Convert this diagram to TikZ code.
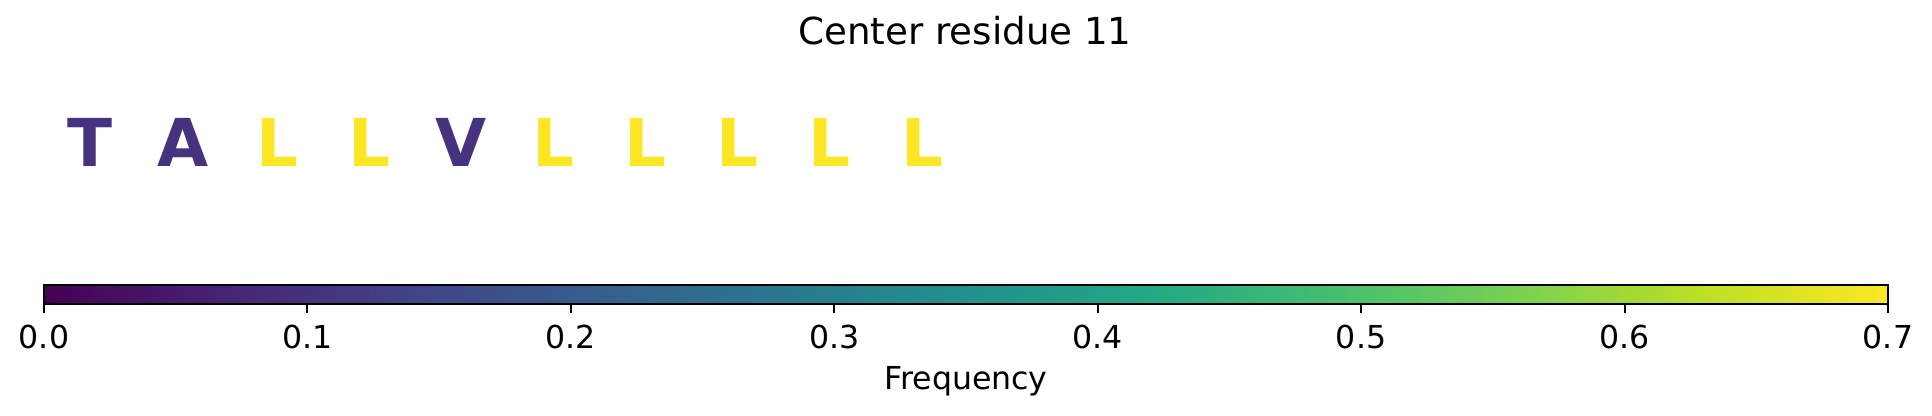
\documentclass[tikz,border=0pt]{standalone}
\usepackage{fontspec}
\setmainfont{DejaVu Sans}
\usetikzlibrary{positioning}

\definecolor{vir0}{HTML}{440154}
\definecolor{vir1}{HTML}{482475}
\definecolor{vir2}{HTML}{414487}
\definecolor{vir3}{HTML}{355F8D}
\definecolor{vir4}{HTML}{2A788E}
\definecolor{vir5}{HTML}{21918C}
\definecolor{vir6}{HTML}{22A884}
\definecolor{vir7}{HTML}{44BF70}
\definecolor{vir8}{HTML}{7AD151}
\definecolor{vir9}{HTML}{BDDF26}
\definecolor{vir10}{HTML}{FDE725}
\definecolor{lowfreq}{HTML}{46327E}
\definecolor{highfreq}{HTML}{FDE725}

\pgfdeclarehorizontalshading{viridis}{100bp}{color(0bp)=(vir0); color(25bp)=(vir0);
  color(30bp)=(vir1); color(35bp)=(vir2); color(40bp)=(vir3); color(45bp)=(vir4);
  color(50bp)=(vir5); color(55bp)=(vir6); color(60bp)=(vir7); color(65bp)=(vir8);
  color(70bp)=(vir9); color(75bp)=(vir10); color(100bp)=(vir10)}

\tikzset{
  residue/.style={anchor=base,inner sep=0pt,font=\fontsize{33}{33}\selectfont\bfseries},
  ticklabel/.style={anchor=base,inner sep=0pt,font=\fontsize{15.8}{15.8}\selectfont},
}

\begin{document}
\begin{tikzpicture}[x=0.5pt,y=-0.5pt]
                \useasboundingbox (0,0) rectangle (1932,416);
                \node[anchor=base,inner sep=0pt,font=\fontsize{18.6}{18.6}\selectfont] (title) at (965,45) {Center residue 11};

                \node[residue,text=lowfreq] (r1) at (90,167) {T};
                \node[residue,text=lowfreq] (r2) at (183,167) {A};
                \node[residue,text=highfreq] (r3) at (278,167) {L};
                \node[residue,text=highfreq] (r4) at (370,167) {L};
                \node[residue,text=lowfreq] (r5) at (461,167) {V};
                \node[residue,text=highfreq] (r6) at (554,167) {L};
                \node[residue,text=highfreq] (r7) at (646,167) {L};
                \node[residue,text=highfreq] (r8) at (738,167) {L};
                \node[residue,text=highfreq] (r9) at (830,167) {L};
                \node[residue,text=highfreq] (r10) at (923,167) {L};

                \shade[shading=viridis] (44,285) rectangle (1888,304);
                \draw[line width=1pt] (44,285) rectangle (1888,304);

                \draw[line width=1pt] (44,304) -- (44,313);
                \draw[line width=1pt] (307.4,304) -- (307.4,313);
                \draw[line width=1pt] (570.9,304) -- (570.9,313);
                \draw[line width=1pt] (834.3,304) -- (834.3,313);
                \draw[line width=1pt] (1097.7,304) -- (1097.7,313);
                \draw[line width=1pt] (1361.1,304) -- (1361.1,313);
                \draw[line width=1pt] (1624.6,304) -- (1624.6,313);
                \draw[line width=1pt] (1888,304) -- (1888,313);

                \node[ticklabel] (t0) at (44,349) {0.0};
                \node[ticklabel] (t1) at (307.4,349) {0.1};
                \node[ticklabel] (t2) at (570.9,349) {0.2};
                \node[ticklabel] (t3) at (834.3,349) {0.3};
                \node[ticklabel] (t4) at (1097.7,349) {0.4};
                \node[ticklabel] (t5) at (1361.1,349) {0.5};
                \node[ticklabel] (t6) at (1624.6,349) {0.6};
                \node[ticklabel] (t7) at (1888,349) {0.7};

                \node[ticklabel] (freq) at (966,390) {Frequency};
            \end{tikzpicture}
\end{document}
